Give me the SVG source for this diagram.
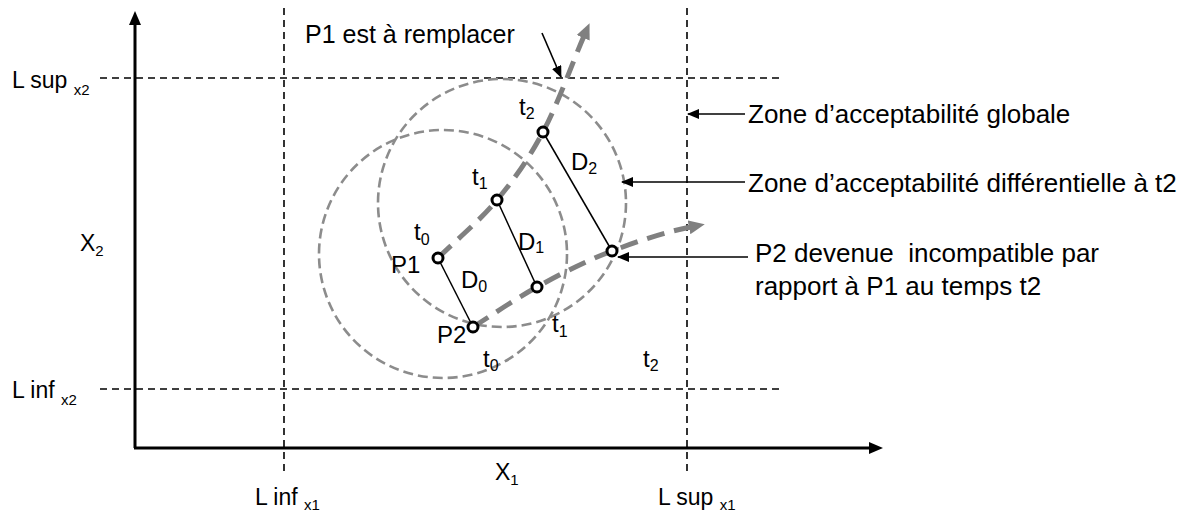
<svg xmlns="http://www.w3.org/2000/svg" width="1194" height="524" viewBox="0 0 1194 524">
<style>
text{font-family:"Liberation Sans",Arial,sans-serif;fill:#000;white-space:pre}
.lbl{font-size:23px}
.pl{font-size:24px}
.big{font-size:26px}
.sub{font-size:15px}
.psub{font-size:16px}
.lim{stroke:#000;stroke-width:1.6;stroke-dasharray:7 5;fill:none}
.axis{stroke:#000;stroke-width:3;fill:none}
.zone{stroke:#8c8c8c;stroke-width:2.6;stroke-dasharray:10 5;fill:none}
.traj{stroke:#808080;stroke-width:5;stroke-dasharray:18 10;fill:none}
.dist{stroke:#000;stroke-width:1.5;fill:none}
.pt{stroke:#000;stroke-width:3;fill:#fff}
.ptr{stroke:#000;stroke-width:1.6;fill:none}
</style>
<defs>
<marker id="axhead" markerUnits="userSpaceOnUse" markerWidth="14" markerHeight="12" refX="2" refY="6" orient="auto"><path d="M0,0 L14,6 L0,12 Z" fill="#000"/></marker>
<marker id="ptrhead" markerUnits="userSpaceOnUse" markerWidth="12" markerHeight="10" refX="11" refY="5" orient="auto"><path d="M0,0 L12,5 L0,10 Z" fill="#000"/></marker>
<marker id="grayhead" markerUnits="userSpaceOnUse" markerWidth="16" markerHeight="14" refX="2" refY="7" orient="auto"><path d="M0,0 L16,7 L0,14 Z" fill="#808080"/></marker>
</defs>

<g id="limits">
<line class="lim" x1="100" y1="78" x2="782" y2="78"/>
<line class="lim" x1="100" y1="389" x2="782" y2="389"/>
<line class="lim" x1="284" y1="8" x2="284" y2="476"/>
<line class="lim" x1="687" y1="8" x2="687" y2="476"/>
</g>

<g id="axes">
<line class="axis" x1="135" y1="448" x2="135" y2="23" marker-end="url(#axhead)"/>
<line class="axis" x1="134" y1="448" x2="871" y2="448" marker-end="url(#axhead)"/>
</g>

<g id="zone-t1">
<circle class="zone" cx="443" cy="254" r="124"/>
</g>
<g id="zone-t2">
<circle class="zone" cx="502" cy="203" r="124"/>
</g>

<g id="connectors">
<path id="traj-p1" class="traj" d="M438,258 C457.7,238.7 479.5,221 497,200 C514.5,179 527.8,160.3 543,132 C558.2,103.3 571,66 584,36" marker-end="url(#grayhead)"/>
<path id="traj-p2" class="traj" d="M473,327 C494.3,313.7 513.8,299.7 537,287 C560.2,274.3 584.8,261.3 612,251 C639.2,240.7 665,232 691,227" marker-end="url(#grayhead)"/>
<line id="d0" class="dist" x1="438" y1="258" x2="473" y2="327"/>
<line id="d1" class="dist" x1="497" y1="200" x2="537" y2="287"/>
<line id="d2" class="dist" x1="543" y1="132" x2="612" y2="251"/>
<line class="ptr" x1="542" y1="33" x2="561" y2="77" marker-end="url(#ptrhead)"/>
<line class="ptr" x1="745" y1="114" x2="688" y2="114" marker-end="url(#ptrhead)"/>
<line class="ptr" x1="745" y1="182" x2="622" y2="182" marker-end="url(#ptrhead)"/>
<line class="ptr" x1="748" y1="257" x2="618" y2="257" marker-end="url(#ptrhead)"/>
</g>

<g id="p1-t0"><circle class="pt" cx="438" cy="258" r="5"/></g>
<g id="p1-t1"><circle class="pt" cx="497" cy="200" r="5"/></g>
<g id="p1-t2"><circle class="pt" cx="543" cy="132" r="5"/></g>
<g id="p2-t0"><circle class="pt" cx="473" cy="327" r="5"/></g>
<g id="p2-t1"><circle class="pt" cx="537" cy="287" r="5"/></g>
<g id="p2-t2"><circle class="pt" cx="612" cy="251" r="5"/></g>

<g id="axis-labels">
<text class="lbl" x="12" y="88">L sup <tspan class="sub" dy="7">x2</tspan></text>
<text class="lbl" x="12" y="398">L inf <tspan class="sub" dy="7">x2</tspan></text>
<text class="lbl" x="80" y="251">X<tspan class="sub" dy="5">2</tspan></text>
<text class="lbl" x="255" y="505">L inf <tspan class="sub" dy="5">x1</tspan></text>
<text class="lbl" x="495" y="480">X<tspan class="sub" dy="5">1</tspan></text>
<text class="lbl" x="658" y="505">L sup <tspan class="sub" dy="5">x1</tspan></text>
</g>

<g id="point-labels">
<text class="pl" x="414" y="240">t<tspan class="psub" dy="5">0</tspan></text>
<text class="pl" x="391" y="273">P1</text>
<text class="pl" x="461" y="288">D<tspan class="psub" dy="4">0</tspan></text>
<text class="pl" x="437" y="343">P2</text>
<text class="pl" x="472" y="185">t<tspan class="psub" dy="4">1</tspan></text>
<text class="pl" x="518" y="250">D<tspan class="psub" dy="3">1</tspan></text>
<text class="pl" x="519" y="115">t<tspan class="psub" dy="4">2</tspan></text>
<text class="pl" x="571" y="170">D<tspan class="psub" dy="4">2</tspan></text>
<text class="pl" x="552" y="332">t<tspan class="psub" dy="5">1</tspan></text>
<text class="pl" x="483" y="367">t<tspan class="psub" dy="4">0</tspan></text>
<text class="pl" x="643" y="367">t<tspan class="psub" dy="4">2</tspan></text>
</g>

<g id="annotations">
<text x="305" y="43" style="font-size:25px">P1 est à remplacer</text>
<text class="big" x="748" y="123">Zone d’acceptabilité globale</text>
<text class="big" x="748" y="192">Zone d’acceptabilité différentielle à t2</text>
<text class="big" x="755" y="262">P2 devenue  incompatible par</text>
<text class="big" x="755" y="295">rapport à P1 au temps t2</text>
</g>
</svg>
